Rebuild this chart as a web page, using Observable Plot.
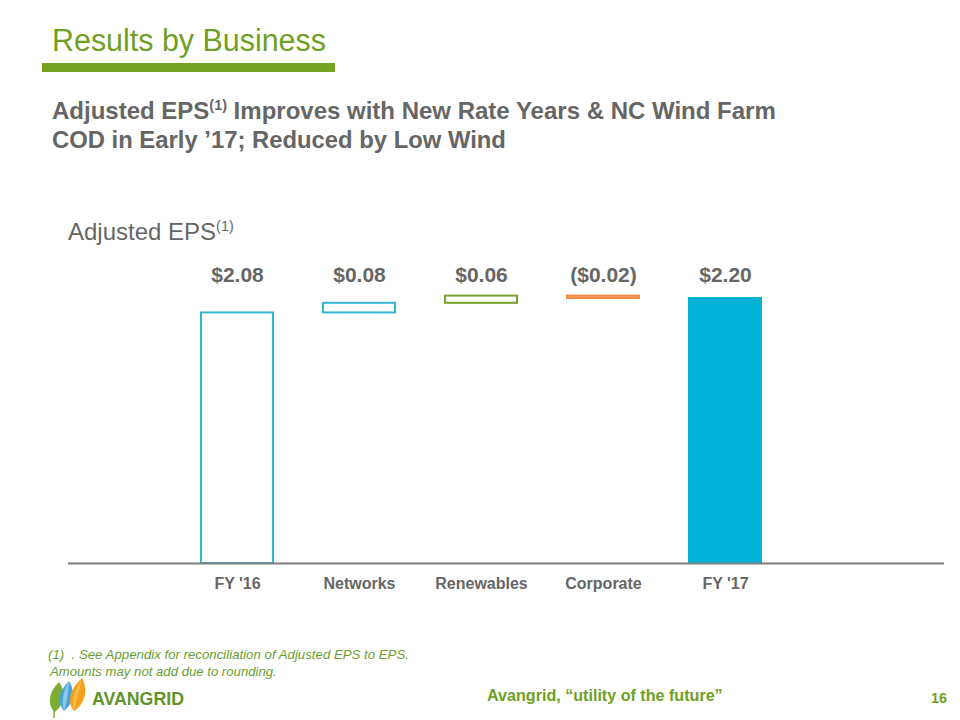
<!DOCTYPE html>
<html><head><meta charset="utf-8">
<script src="https://cdn.jsdelivr.net/npm/d3@7"></script>
<script src="https://cdn.jsdelivr.net/npm/@observablehq/plot@0.6"></script>
<style>
html,body{margin:0;padding:0;background:#fff}
body{width:960px;height:720px;position:relative;overflow:hidden;font-family:"Liberation Sans",Arial,Helvetica,sans-serif}
.t{position:absolute;white-space:nowrap;line-height:1}
sup{font-size:60%;vertical-align:0;position:relative;top:-0.62em;font-weight:normal}
.hl sup{font-weight:bold}
#chart{position:absolute;left:0;top:250px}
</style></head><body>
<div class="t" style="left:52px;top:24.5px;font-size:29px;color:#6fa023" data-w="274">Results by Business</div>
<div style="position:absolute;left:42px;top:63px;width:293px;height:9px;background:#74a41f"></div>
<div class="t hl" style="left:52px;top:98.7px;font-size:24px;font-weight:bold;color:#666" data-w="724">Adjusted EPS<sup>(1)</sup> Improves with New Rate Years &amp; NC Wind Farm</div>
<div class="t hl" style="left:52px;top:127.7px;font-size:24px;font-weight:bold;color:#666" data-w="454">COD in Early ’17; Reduced by Low Wind</div>
<div class="t" style="left:68px;top:219.7px;font-size:24px;color:#666">Adjusted EPS<sup>(1)</sup></div>
<div id="chart"></div>
<div class="t" style="left:48px;top:648px;font-size:13.5px;font-style:italic;color:#6c9c2e" data-w="361">(1)&nbsp;&nbsp;. See Appendix for reconciliation of Adjusted EPS to EPS.</div>
<div class="t" style="left:50px;top:665px;font-size:13.5px;font-style:italic;color:#6c9c2e" data-w="227">Amounts may not add due to rounding.</div>
<svg style="position:absolute;left:46px;top:676px" width="46" height="44" viewBox="0 0 46 44">
  <path d="M9 36 C1 29 2 17 13 6 C20 15 19 28 9 36 Z" fill="#7cad34"/>
  <path d="M8 34 L8 42" stroke="#7cad34" stroke-width="1.5"/>
  <path d="M18 35 C11 27 12 16 23 5 C29 14 28 27 18 35 Z" fill="#4aa3d8"/>
  <path d="M18 35 C15 26 17 15 23 5 C22 17 21 27 18 35 Z" fill="#9fd0ef" opacity="0.8"/>
  <path d="M28 35 C21 27 23 14 36 2 C42 13 40 27 28 35 Z" fill="#f5a11c"/>
  <path d="M28 35 C25 26 28 14 36 2 C33 16 31 26 28 35 Z" fill="#f7c35a" opacity="0.7"/>
</svg>
<div class="t" style="left:92px;top:691px;font-size:17.5px;font-weight:bold;color:#5e9429" data-w="92">AVANGRID</div>
<div class="t" style="left:487px;top:686.6px;font-size:17px;font-weight:bold;color:#6fa023" data-w="236">Avangrid, “utility of the future”</div>
<div class="t" style="left:931px;top:691.3px;font-size:15px;font-weight:bold;color:#6fa023" data-w="16">16</div>
<script>
// Waterfall data
const categories = ["FY '16", "Networks", "Renewables", "Corporate", "FY '17"];
const values = [2.08, 0.08, 0.06, -0.02, 2.20];
const valueLabels = ["$2.08", "$0.08", "$0.06", "($0.02)", "$2.20"];
const kinds = ["total", "delta", "delta", "delta", "total"];
const strokes = ["#35b6d0", "#35b6d0", "#77a22f", "#f58b45", "#00b2d6"];
const fills = ["#ffffff", "#ffffff", "#ffffff", "#fbb98a", "#00b2d6"];

let run = 0;
const rows = categories.map((c, i) => {
  let y1, y2;
  if (kinds[i] === "total") { y1 = 0; y2 = values[i]; run = values[i]; }
  else { y1 = run; y2 = run + values[i]; run = y2; }
  return {cat: c, y1, y2, label: valueLabels[i], stroke: strokes[i], fill: fills[i]};
});

const chart = Plot.plot({
  width: 960, height: 350,
  marginLeft: 68, marginRight: 16, marginTop: 48, marginBottom: 37,
  style: {fontFamily: "'Liberation Sans', Arial, sans-serif", background: "transparent", overflow: "visible"},
  x: {domain: categories, range: [149.8, 812.5], padding: 0.41, axis: null},
  y: {domain: [0, 2.2], axis: null},
  color: {type: "identity"},
  marks: [
    Plot.barY(rows, {x: "cat", y1: "y1", y2: "y2", fill: "fill", stroke: "stroke", strokeWidth: 2}),
    Plot.ruleY([0], {stroke: "#7f7f7f", strokeWidth: 2}),
    Plot.text(rows, {x: "cat", text: "label", frameAnchor: "top", lineAnchor: "middle", dy: -23.7, fontSize: 21, fontWeight: "bold", fill: "#666"}),
    Plot.text(rows, {x: "cat", text: "cat", frameAnchor: "bottom", lineAnchor: "middle", dy: 20, fontSize: 16, fontWeight: "bold", fill: "#666"})
  ]
});
document.getElementById("chart").appendChild(chart);

// fit text widths
document.querySelectorAll("[data-w]").forEach(el => {
  const target = +el.dataset.w;
  const w = el.getBoundingClientRect().width;
  const fs = parseFloat(getComputedStyle(el).fontSize);
  if (w > 0) el.style.fontSize = (fs * target / w).toFixed(2) + "px";
});
</script>
</body></html>
